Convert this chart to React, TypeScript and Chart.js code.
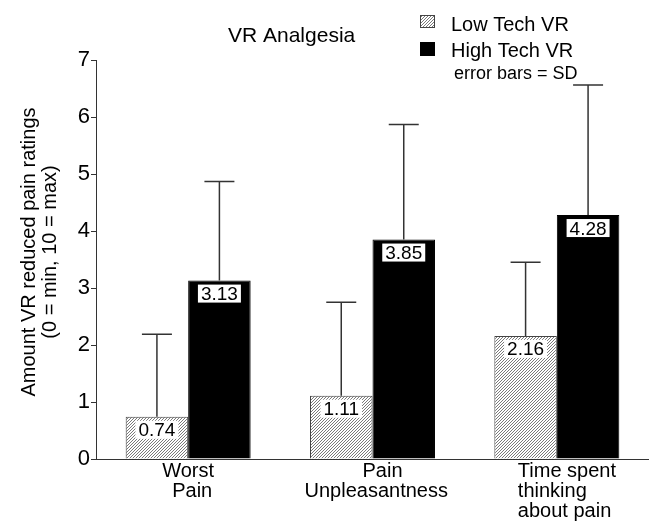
import React, { useEffect, useRef } from "react";
import { Chart, registerables } from "chart.js";

Chart.register(...registerables);

const categories = ["Worst Pain", "Pain Unpleasantness", "Time spent thinking about pain"];
const categoryLines = [["Worst", "Pain"], ["Pain", "Unpleasantness"], ["Time spent", "thinking", "about pain"]];
const lowTech = [0.74, 1.11, 2.16];
const highTech = [3.13, 3.85, 4.28];
const lowTechSD = [1.45, 1.64, 1.29];
const highTechSD = [1.74, 2.02, 2.28];
const seriesNames = ["Low Tech VR", "High Tech VR"];
const yMin = 0;
const yMax = 7;
const chartTitle = "VR Analgesia";
const yTitle = ["Amount VR reduced pain ratings", "(0 = min, 10 = max)"];
const errorNote = "error bars = SD";

const FONT = '"Liberation Sans", Arial, Helvetica, sans-serif';
// per-line left offsets (px) relative to category centre
const xLabelOffsets = [[-26, -16], [-10, -68], [-39, -39, -39]];

function makeHatch(): CanvasPattern | string {
  const s = 3;
  const c = document.createElement("canvas");
  c.width = s;
  c.height = s;
  const g = c.getContext("2d");
  if (!g) return "#ccc";
  g.fillStyle = "#fff";
  g.fillRect(0, 0, s, s);
  g.fillStyle = "#7a7a7a";
  for (let px = 0; px < s; px++) {
    for (let py = 0; py < s; py++) {
      if ((px + py) % s === s - 1) g.fillRect(px, py, 1, 1);
    }
  }
  const p = g.createPattern(c, "repeat");
  return p || "#ccc";
}

export default function App() {
  const ref = useRef<HTMLCanvasElement | null>(null);

  useEffect(() => {
    const canvas = ref.current;
    if (!canvas) return;
    const hatch = makeHatch();
    const sds = [lowTechSD, highTechSD];

    const overlay = {
      id: "overlay",
      afterDatasetsDraw(chart: any) {
        const ctx = chart.ctx;
        const y = chart.scales.y;
        ctx.save();
        // error bars
        chart.data.datasets.forEach((ds: any, di: number) => {
          const meta = chart.getDatasetMeta(di);
          meta.data.forEach((bar: any, i: number) => {
            const top = y.getPixelForValue(ds.data[i] + sds[di][i]);
            ctx.strokeStyle = "#333";
            ctx.lineWidth = 1.5;
            ctx.beginPath();
            ctx.moveTo(bar.x, bar.y);
            ctx.lineTo(bar.x, top);
            ctx.moveTo(bar.x - 15, top);
            ctx.lineTo(bar.x + 15, top);
            ctx.stroke();
          });
        });
        // value labels
        ctx.font = `19px ${FONT}`;
        ctx.textAlign = "center";
        ctx.textBaseline = "alphabetic";
        chart.data.datasets.forEach((ds: any, di: number) => {
          const meta = chart.getDatasetMeta(di);
          meta.data.forEach((bar: any, i: number) => {
            const txt = ds.data[i].toFixed(2);
            const w = ctx.measureText(txt).width + 6;
            const bx = bar.x - w / 2;
            const by = bar.y + 4;
            ctx.fillStyle = "#fff";
            ctx.fillRect(bx, by, w, 18);
            ctx.fillStyle = "#000";
            ctx.fillText(txt, bar.x, by + 15.5);
          });
        });
        ctx.restore();
      },
      afterDraw(chart: any) {
        const ctx = chart.ctx;
        const x = chart.scales.x;
        ctx.save();
        ctx.fillStyle = "#000";
        // title
        ctx.font = `21px ${FONT}`;
        ctx.textAlign = "left";
        ctx.textBaseline = "alphabetic";
        ctx.fillText(chartTitle, 228, 42);
        // legend
        ctx.fillStyle = hatch as any;
        ctx.fillRect(420, 15, 15, 13);
        ctx.strokeStyle = "#444";
        ctx.lineWidth = 1;
        ctx.strokeRect(420.5, 15.5, 14, 12);
        ctx.fillStyle = "#000";
        ctx.fillRect(420, 42, 15, 14);
        ctx.font = `20px ${FONT}`;
        ctx.fillText(seriesNames[0], 451, 30.5);
        ctx.fillText(seriesNames[1], 451, 56.5);
        ctx.font = `18px ${FONT}`;
        ctx.fillText(errorNote, 454, 78.5);
        // x labels
        ctx.font = `20px ${FONT}`;
        categoryLines.forEach((lines, i) => {
          const cx = x.getPixelForValue(i);
          lines.forEach((ln, j) => {
            ctx.fillText(ln, cx + xLabelOffsets[i][j], 477 + j * 20);
          });
        });
        // y title
        ctx.translate(0, 252);
        ctx.rotate(-Math.PI / 2);
        ctx.textAlign = "center";
        ctx.fillText(yTitle[0], 0, 35);
        ctx.fillText(yTitle[1], 0, 56);
        ctx.restore();
      },
    };

    const chart = new Chart(canvas, {
      type: "bar",
      data: {
        labels: categories,
        datasets: [
          {
            label: seriesNames[0],
            data: lowTech,
            backgroundColor: hatch as any,
            borderColor: "#444",
            borderWidth: 1,
          },
          {
            label: seriesNames[1],
            data: highTech,
            backgroundColor: "#000",
            borderColor: "#000",
            borderWidth: 1,
          },
        ],
      },
      options: {
        responsive: false,
        animation: false,
        layout: { padding: { top: 60, left: 0, right: 0, bottom: 54 } },
        datasets: {
          bar: { categoryPercentage: 0.678, barPercentage: 1 },
        },
        plugins: {
          legend: { display: false },
          title: { display: false },
          tooltip: { enabled: false },
        },
        scales: {
          x: {
            grid: { display: false },
            ticks: { display: false },
            border: { display: true, color: "#333", width: 1 },
          },
          y: {
            min: yMin,
            max: yMax,
            afterFit(scale: any) {
              scale.width = 96;
            },
            ticks: {
              stepSize: 1,
              color: "#000",
              padding: 1,
              font: { family: FONT, size: 22 },
            },
            grid: {
              display: true,
              drawOnChartArea: false,
              drawTicks: true,
              tickLength: 5,
              color: "#333",
            },
            border: { display: true, color: "#333", width: 1 },
          },
        },
      },
      plugins: [overlay],
    });
    return () => chart.destroy();
  }, []);

  return (
    <div style={{ position: "fixed", left: 0, top: 0, width: 649, height: 521, overflow: "hidden", background: "#fff" }}>
      <canvas ref={ref} width={649} height={521} style={{ display: "block" }} />
    </div>
  );
}
